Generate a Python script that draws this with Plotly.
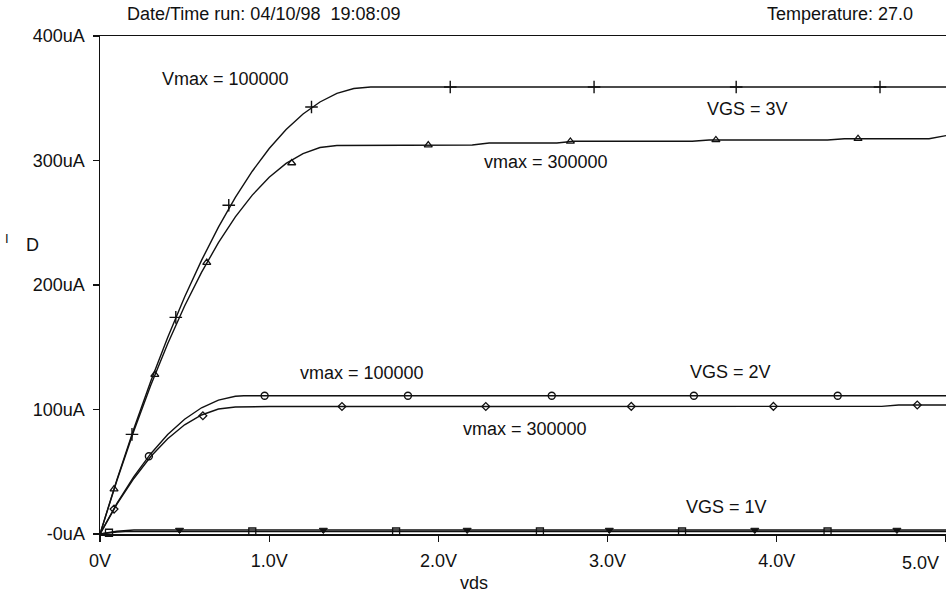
import plotly.graph_objects as go

# ---------------- data (vds in V, ID in uA) ----------------
# VGS = 3V, vmax = 100000  ("+" markers)
a_x = [0, 0.1, 0.2, 0.3, 0.4, 0.5, 0.6, 0.7, 0.8, 0.9, 1.0, 1.1, 1.2, 1.3, 1.4, 1.5, 1.6, 5.0]
a_y = [0, 43.7, 84.6, 122.7, 157.9, 190.3, 219.8, 246.5, 270.4, 291.4, 309.6, 324.9, 337.4, 347.0, 353.9, 357.8, 359, 359]
a_mx = [0.189, 0.448, 0.761, 1.25, 2.07, 2.92, 3.76, 4.61]
a_my = [80, 174, 264, 343, 359, 359, 359, 359]

# VGS = 3V, vmax = 300000  (triangle markers)
b_x = [0, 0.1, 0.2, 0.3, 0.4, 0.5, 0.6, 0.7, 0.8, 0.9, 1.0, 1.1, 1.2, 1.3, 1.4,
       2.2, 2.3, 2.7, 2.8, 3.5, 3.6, 4.3, 4.4, 4.9, 5.0]
b_y = [0, 43.0, 82.8, 119.4, 152.8, 183.1, 210.1, 234.0, 254.7, 272.2, 286.5, 297.7, 305.6, 310.4, 312,
       312.5, 314, 314, 315.5, 315.5, 316.5, 316.5, 317.5, 317.5, 320]
b_mx = [0.083, 0.324, 0.631, 1.133, 1.94, 2.78, 3.64, 4.48]
b_my = [36, 128, 218, 298, 312.3, 315.3, 316.5, 317.5]

# VGS = 2V, vmax = 100000  (circle markers)
c_x = [0, 0.1, 0.2, 0.3, 0.4, 0.5, 0.6, 0.7, 0.8, 0.85, 5.0]
c_y = [0, 24.6, 46.1, 64.5, 79.9, 92.2, 101.4, 107.5, 110.6, 111, 111]
c_mx = [0.289, 0.973, 1.82, 2.67, 3.51, 4.36]
c_my = [62.5, 111, 111, 111, 111, 111]

# VGS = 2V, vmax = 300000  (diamond markers)
d_x = [0, 0.1, 0.2, 0.3, 0.4, 0.5, 0.6, 0.7, 0.8, 1.0, 4.62, 4.72, 5.0]
d_y = [0, 23.9, 44.6, 62.2, 76.5, 87.7, 95.6, 100.4, 102, 102.4, 102.5, 103.6, 103.6]
d_mx = [0.083, 0.608, 1.43, 2.28, 3.14, 3.98, 4.83]
d_my = [20, 95, 102.4, 102.4, 102.5, 102.5, 103.6]

# VGS = 1V (square markers)
e_x = [0, 0.05, 0.1, 0.15, 5.0]
e_y = [0, 1.0, 1.6, 1.9, 2.0]
e_mx = [0.053, 0.90, 1.75, 2.60, 3.44, 4.30]
e_my = [1.0, 2.0, 2.0, 2.0, 2.0, 2.0]

# VGS = 1V (inverted triangle markers)
f_x = [0, 0.1, 0.2, 5.0]
f_y = [0, 2.2, 3.2, 3.2]
f_mx = [0.47, 1.32, 2.17, 3.01, 3.87, 4.71]
f_my = [3.2, 3.2, 3.2, 3.2, 3.2, 3.2]

x_tickvals = [0, 1, 2, 3, 4, 5]
x_ticktext = ["0V", "1.0V", "2.0V", "3.0V", "4.0V", ""]
y_tickvals = [0, 100, 200, 300, 400]
y_ticktext = ["-0uA", "100uA", "200uA", "300uA", "400uA"]

# ---------------- figure ----------------
W, H = 946, 599
PLOT_L, PLOT_R, PLOT_T, PLOT_B = 100, 946, 36, 534   # plot area in window pixels
ML, MT, MR = PLOT_L, PLOT_T, W - PLOT_R
MB = H - PLOT_B
PW, PH = PLOT_R - PLOT_L, PLOT_B - PLOT_T
FONT = "Liberation Sans, Arial, sans-serif"
FS = 18
INK = "#111111"


def px(xp):
    return (xp - PLOT_L) / PW


def py(yp):
    return (PLOT_B - yp) / PH


fig = go.Figure()

series = [
    (a_x, a_y, a_mx, a_my, dict(symbol="cross-thin-open", size=9, line=dict(width=1.4, color=INK), color=INK)),
    (b_x, b_y, b_mx, b_my, dict(symbol="triangle-up-open", size=7, line=dict(width=1.3, color=INK), color=INK)),
    (c_x, c_y, c_mx, c_my, dict(symbol="circle-open", size=7, line=dict(width=1.4, color=INK), color=INK)),
    (d_x, d_y, d_mx, d_my, dict(symbol="diamond-open", size=6, line=dict(width=1.3, color=INK), color=INK)),
    (e_x, e_y, e_mx, e_my, dict(symbol="square-open", size=7, line=dict(width=1.3, color=INK), color=INK)),
    (f_x, f_y, f_mx, f_my, dict(symbol="triangle-down", size=7, line=dict(width=1, color=INK), color=INK)),
]
for lx, ly, mx, my, mk in series:
    fig.add_trace(go.Scatter(x=lx, y=ly, mode="lines", line=dict(color=INK, width=1.4),
                             showlegend=False, hoverinfo="skip"))
    fig.add_trace(go.Scatter(x=mx, y=my, mode="markers", marker=mk, cliponaxis=False,
                             showlegend=False, hoverinfo="skip"))

ann = []


def text(s, xp, yp, anchor="left", size=FS):
    ann.append(dict(text=s, x=px(xp), y=py(yp), xref="paper", yref="paper",
                    xanchor=anchor, yanchor="middle", showarrow=False,
                    font=dict(family=FONT, size=size, color=INK)))


text("Date/Time run: 04/10/98  19:08:09", 125, 14)
text("Temperature: 27.0", 915, 14, anchor="right")
text("Vmax = 100000", 160, 79)
text("vmax = 300000", 482, 162)
text("VGS = 3V", 705, 109)
text("vmax = 100000", 298, 373)
text("VGS = 2V", 688, 372)
text("vmax = 300000", 461, 429)
text("VGS = 1V", 684, 507)
text("vds", 474, 583, anchor="center")
text("5.0V", 941, 563, anchor="right")
text("I", 3, 239, size=13)
text("D", 24, 245)

fig.update_layout(
    width=W, height=H,
    margin=dict(l=ML, r=MR, t=MT, b=MB, pad=0),
    paper_bgcolor="white", plot_bgcolor="white",
    font=dict(family=FONT, size=FS, color=INK),
    annotations=ann,
    xaxis=dict(range=[0, 5], tickvals=x_tickvals, ticktext=x_ticktext,
               showgrid=False, zeroline=False, showline=True, mirror=True,
               linecolor=INK, linewidth=1.5, ticks="outside", ticklen=6,
               tickcolor=INK, tickwidth=1.2, ticklabelstandoff=4,
               tickfont=dict(family=FONT, size=FS, color=INK)),
    yaxis=dict(range=[0, 400], tickvals=y_tickvals, ticktext=y_ticktext,
               showgrid=False, zeroline=False, showline=True, mirror=False,
               linecolor=INK, linewidth=1.5, ticks="outside", ticklen=6,
               tickcolor=INK, tickwidth=1.2, ticklabelstandoff=4,
               tickfont=dict(family=FONT, size=FS, color=INK)),
)

# remove the browser's default 8px body margin so the figure fills the window exactly
fig.write_html("out.html", config={"displayModeBar": False, "staticPlot": True},
               post_script="document.body.style.margin='0';")
